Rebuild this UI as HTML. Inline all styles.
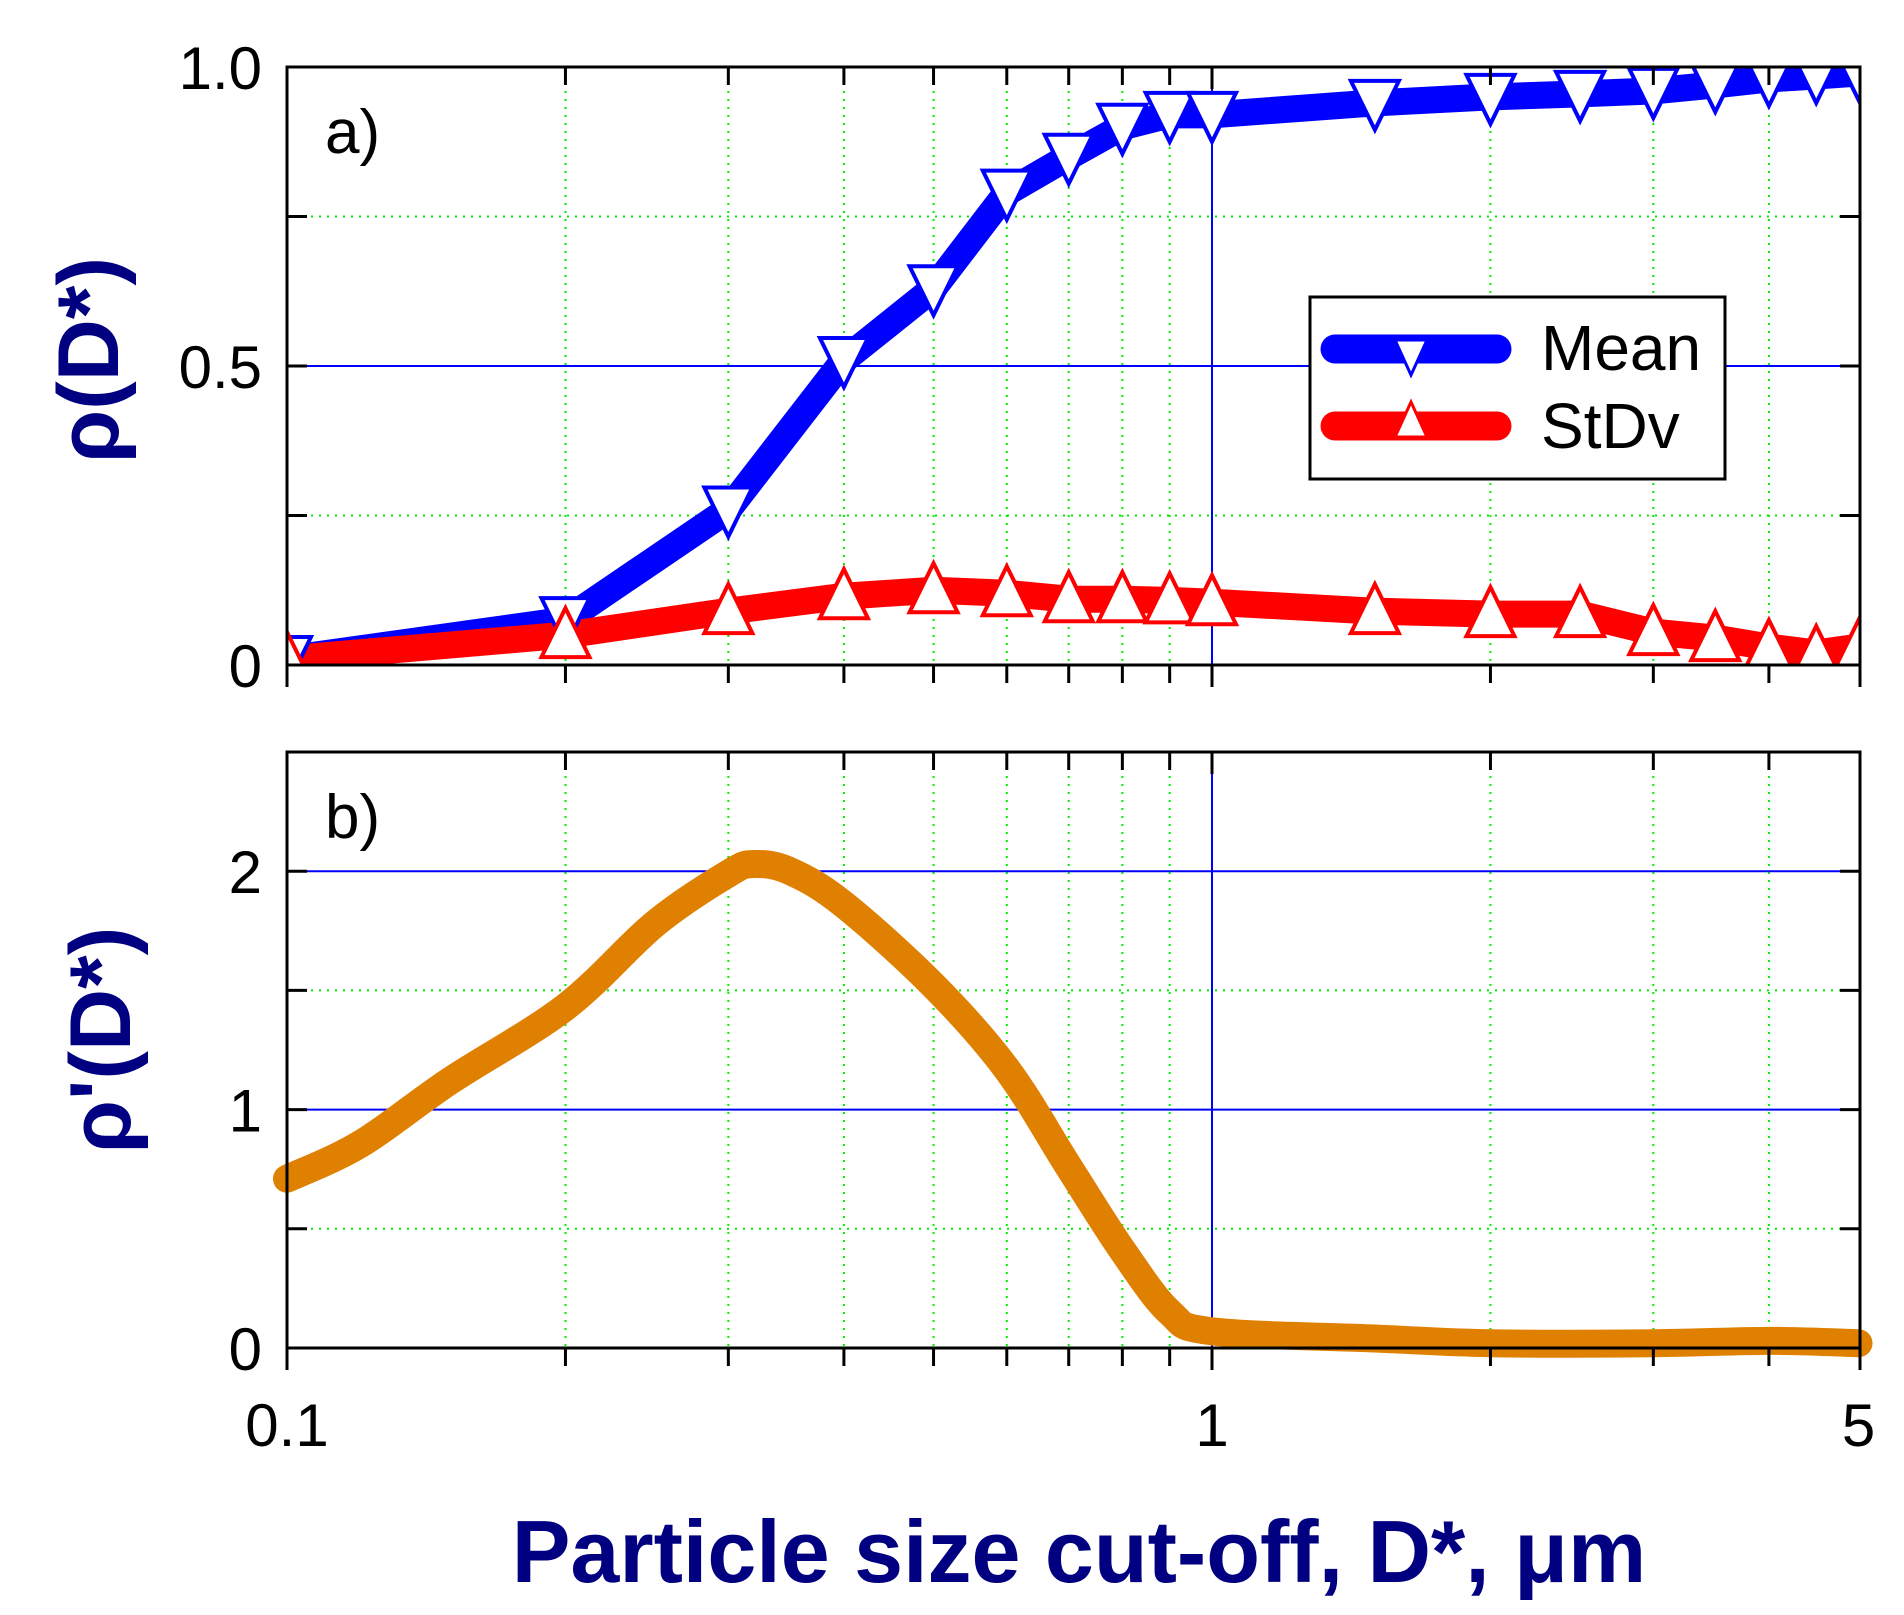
<!DOCTYPE html>
<html><head><meta charset="utf-8"><style>
html,body{margin:0;padding:0;background:#fff;}
svg{display:block;font-family:"Liberation Sans",Arial,sans-serif;}
</style></head><body>
<svg id="chart" width="1904" height="1615" viewBox="0 0 1904 1615">
<defs>
<clipPath id="clipA"><rect x="287" y="67" width="1573" height="598"/></clipPath>
<clipPath id="clipB"><rect x="270" y="752" width="1610" height="610"/></clipPath>
</defs>
<g id="gridA"></g>
<g id="gridB"></g>
<g id="seriesA" clip-path="url(#clipA)"></g>
<g id="seriesB" clip-path="url(#clipB)"></g>
<g id="axes"></g>
<text x="325" y="153" font-size="62">a)</text>
<text x="325" y="838" font-size="62">b)</text>
<text transform="translate(118,360) rotate(-90)" text-anchor="middle" font-size="86" font-weight="bold" fill="#000080">ρ(D*)</text>
<text transform="translate(130,1040) rotate(-90)" text-anchor="middle" font-size="86" font-weight="bold" fill="#000080">ρ'(D*)</text>
<text x="1079" y="1582" text-anchor="middle" font-size="88" font-weight="bold" fill="#000080">Particle size cut-off, D*, μm</text>
<g>
<rect x="1310" y="297" width="415" height="182" fill="#fff" stroke="#000" stroke-width="3"/>
<g>
<line x1="1335" y1="349" x2="1497" y2="349" stroke="#0000ff" stroke-width="29" stroke-linecap="round"/>
<polygon points="1395,340 1427,340 1411,375" fill="#fff" stroke="#0000ff" stroke-width="3"/>
<text x="1541" y="370" font-size="64">Mean</text>
</g>
<g>
<line x1="1335" y1="426" x2="1497" y2="426" stroke="#ff0000" stroke-width="29" stroke-linecap="round"/>
<polygon points="1395,437 1427,437 1411,402" fill="#fff" stroke="#ff0000" stroke-width="3"/>
<text x="1541" y="448" font-size="64">StDv</text>
</g>
</g>
</svg>
<script>
const xCats = [0.1,0.2,0.3,0.4,0.5,0.6,0.7,0.8,0.9,1,1.5,2,2.5,3,3.5,4,4.5,5];
const meanVals = [0.01,0.075,0.26,0.51,0.63,0.79,0.85,0.90,0.92,0.92,0.94,0.95,0.955,0.96,0.97,0.98,0.985,0.99];
const stdVals = [0.01,0.05,0.09,0.115,0.125,0.12,0.11,0.11,0.108,0.105,0.09,0.085,0.085,0.055,0.045,0.03,0.02,0.03];
const derivX = [0.1,0.12,0.15,0.2,0.25,0.3,0.32,0.35,0.4,0.5,0.6,0.7,0.8,0.9,1,1.5,2,3,4,5];
const derivVals = [0.71,0.855,1.12,1.43,1.78,1.99,2.03,2.0,1.86,1.52,1.17,0.76,0.41,0.15,0.07,0.04,0.02,0.02,0.03,0.02];
const yTicksA = [0,0.5,1.0];
const yTickLabelsA = ["0","0.5","1.0"];
const yTicksB = [0,1,2];
const yTickLabelsB = ["0","1","2"];
const xTickLabels = ["0.1","1","5"];
const xTickVals = [0.1,1,5];

const NS="http://www.w3.org/2000/svg";
const L=287,R=1860,aT=67,aB=665,bT=752,bB=1348;
const xS=v=>L+925*Math.log10(v/0.1);
const yA=v=>aB-(aB-aT)*v;
const yB=v=>bB-(bB-bT)*v/2.5;
function mk(tag,attrs,parent){const e=document.createElementNS(NS,tag);for(const k in attrs)e.setAttribute(k,attrs[k]);parent.appendChild(e);return e;}
const gA=document.getElementById('gridA'),gB=document.getElementById('gridB');
const sA=document.getElementById('seriesA'),sB=document.getElementById('seriesB'),ax=document.getElementById('axes');
const minorX=[0.2,0.3,0.4,0.5,0.6,0.7,0.8,0.9,2,3,4];
[[gA,aT,aB,[0.25,0.75],[0.5],yA],[gB,bT,bB,[0.5,1.5],[1,2],yB]].forEach(([g,t,b,minY,majY,ys])=>{
  minorX.forEach(v=>{const l=mk('line',{x1:xS(v),x2:xS(v),y1:t,y2:b,stroke:'#00ee00','stroke-width':2,'stroke-dasharray':'2,6'},g);
    
    });
  minY.forEach(v=>{const l=mk('line',{x1:L,x2:R,y1:ys(v),y2:ys(v),stroke:'#00ee00','stroke-width':2,'stroke-dasharray':'2,6'},g);
    
    });
  majY.forEach(v=>{const l=mk('line',{x1:L,x2:R,y1:ys(v),y2:ys(v),stroke:'#0000ff','stroke-width':2},g);
    
    });
  const l=mk('line',{x1:xS(1),x2:xS(1),y1:t,y2:b,stroke:'#0000ff','stroke-width':2},g);
  
  
});
function poly(xs,ys,fx,fy){return xs.map((x,i)=>fx(x)+','+fy(ys[i])).join(' ');}
function smooth(xs,ys,fx,fy){
  const p=xs.map((x,i)=>[fx(x),fy(ys[i])]);
  let d='M'+p[0][0]+','+p[0][1];
  for(let i=0;i<p.length-1;i++){
    const p0=p[Math.max(0,i-1)],p1=p[i],p2=p[i+1],p3=p[Math.min(p.length-1,i+2)];
    const c1=[p1[0]+(p2[0]-p0[0])/6,p1[1]+(p2[1]-p0[1])/6];
    const c2=[p2[0]-(p3[0]-p1[0])/6,p2[1]-(p3[1]-p1[1])/6];
    d+=` C${c1[0]},${c1[1]} ${c2[0]},${c2[1]} ${p2[0]},${p2[1]}`;
  }
  return d;
}
const lm=mk('polyline',{points:poly(xCats,meanVals,xS,yA),fill:'none',stroke:'#0000ff','stroke-width':27,'stroke-linejoin':'round'},sA);


const ls=mk('polyline',{points:poly(xCats,stdVals,xS,yA),fill:'none',stroke:'#ff0000','stroke-width':27,'stroke-linejoin':'round'},sA);


xCats.forEach((x,i)=>{
  const cx=xS(x),cy=yA(meanVals[i]);
  const p=mk('polygon',{points:`${cx-24},${cy-22} ${cx+24},${cy-22} ${cx},${cy+27}`,fill:'#fff',stroke:'#0000ff','stroke-width':4},sA);
  
  
});
xCats.forEach((x,i)=>{
  const cx=xS(x),cy=yA(stdVals[i]);
  const p=mk('polygon',{points:`${cx-24},${cy+22} ${cx+24},${cy+22} ${cx},${cy-27}`,fill:'#fff',stroke:'#ff0000','stroke-width':4},sA);
  
  
});
const lb=mk('path',{d:smooth(derivX,derivVals,xS,yB),fill:'none',stroke:'#e08000','stroke-width':28,'stroke-linejoin':'round','stroke-linecap':'round'},sB);


[[aT,aB],[bT,bB]].forEach(([t,b])=>{
  const r=mk('rect',{x:L,y:t,width:R-L,height:b-t,fill:'none',stroke:'#000','stroke-width':3},ax);
  
  
  [...minorX,1].forEach(v=>{
    const len=v===1?22:18;
    const a=mk('line',{x1:xS(v),x2:xS(v),y1:t,y2:t+len,stroke:'#000','stroke-width':3},ax);
    
    
    const c=mk('line',{x1:xS(v),x2:xS(v),y1:b,y2:b+len,stroke:'#000','stroke-width':3},ax);
    
    
  });
  [L,R].forEach(xx=>{
    const c=mk('line',{x1:xx,x2:xx,y1:b,y2:b+22,stroke:'#000','stroke-width':3},ax);
    
    
  });
});
[[yA,[0,0.25,0.5,0.75,1]],[yB,[0,0.5,1,1.5,2,2.5]]].forEach(([ys,vals])=>{
  vals.forEach(v=>{
    const y=ys(v);
    const a=mk('line',{x1:L,x2:L+20,y1:y,y2:y,stroke:'#000','stroke-width':3},ax);
    
    
    const b=mk('line',{x1:R-20,x2:R,y1:y,y2:y,stroke:'#000','stroke-width':3},ax);
    
    
  });
});
yTicksA.forEach((v,i)=>{
  const t=mk('text',{x:262,y:yA(v)+22,'text-anchor':'end','font-size':60},ax);
  t.textContent=yTickLabelsA[i];
  
  
});
yTicksB.forEach((v,i)=>{
  const t=mk('text',{x:262,y:yB(v)+22,'text-anchor':'end','font-size':60},ax);
  t.textContent=yTickLabelsB[i];
  
  
});
xTickVals.forEach((v,i)=>{
  const t=mk('text',{x:xS(v),y:1446,'text-anchor':'middle','font-size':60},ax);
  t.textContent=xTickLabels[i];
  
  
});
</script>
</body></html>
